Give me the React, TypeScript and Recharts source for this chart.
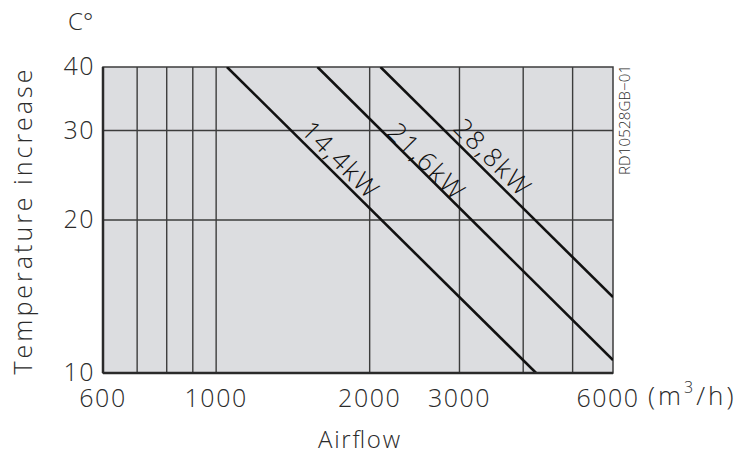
import React from 'react';
import {
  ComposedChart, Line, XAxis, YAxis, ReferenceLine, ReferenceArea, ReferenceDot
} from 'recharts';

// axis ticks and grid positions (log-log)
const xTicks = [600, 1000, 2000, 3000, 6000];
const yTicks = [10, 20, 30, 40];
const xGrid = [700, 800, 900, 1000, 2000, 3000, 4000, 5000];
const yGrid = [20, 30];

// heater curves, airflow (m3/h) vs temperature increase (C)
const line14 = [{ x: 1050, y: 40 }, { x: 4240, y: 10 }];
const line21 = [{ x: 1580, y: 40 }, { x: 6000, y: 10.6 }];
const line28 = [{ x: 2100, y: 40 }, { x: 6000, y: 14.1 }];

const lineLabels = [
  { text: '14,4kW', x: 1749, y: 26.3 },
  { text: '21,6kW', x: 2579, y: 26.1 },
  { text: '28,8kW', x: 3474, y: 26.6 },
];

const FONT = '"Open Sans", sans-serif';
const TEXT = '#2b2b2b';
const GRID = '#3c3c3c';
const PLOT_BG = '#dcdde0';

const XTick = (p: any) => (
  <text x={p.payload.value === 6000 ? p.x - 5 : p.x} y={p.y + 34} textAnchor="middle"
    fontFamily={FONT} fontWeight={300} fontSize={25} letterSpacing={1.5} fill={TEXT}>
    {p.payload.value}
  </text>
);

const YTick = (p: any) => (
  <text x={p.x - 8} y={p.y + 8} textAnchor="end" fontFamily={FONT} fontWeight={300}
    fontSize={25} letterSpacing={1.5} fill={TEXT}>
    {p.payload.value}
  </text>
);

const LineLabel = (text: string) => (p: any) => (
  <text x={p.cx} y={p.cy} dy={9} textAnchor="middle" fontFamily={FONT} fontWeight={300}
    fontSize={26} textLength={96} lengthAdjust="spacing" fill="#111"
    transform={`rotate(45 ${p.cx} ${p.cy})`}>
    {text}
  </text>
);

export default function App() {
  return (
    <div style={{ position: 'absolute', left: 0, top: 0, width: 755, height: 454, background: '#fff' }}>
      <ComposedChart width={755} height={454} margin={{ top: 67, right: 142, bottom: 41, left: 43 }}>
        <XAxis type="number" dataKey="x" scale="log" domain={[600, 6000]} ticks={xTicks}
          allowDataOverflow interval={0} height={40} tickSize={0} tickMargin={0}
          tickLine={false} axisLine={{ stroke: '#2a2a2a', strokeWidth: 2.5 }} tick={<XTick />} />
        <YAxis type="number" dataKey="y" scale="log" domain={[10, 40]} ticks={yTicks}
          allowDataOverflow interval={0} width={60} tickSize={0} tickMargin={0}
          tickLine={false} axisLine={{ stroke: '#2a2a2a', strokeWidth: 2.5 }} tick={<YTick />} />
        <ReferenceArea x1={600} x2={6000} y1={10} y2={40} fill={PLOT_BG} fillOpacity={1}
          stroke={GRID} strokeWidth={1.5} />
        {xGrid.map(v => (
          <ReferenceLine key={'x' + v} x={v} stroke={GRID} strokeWidth={1.4} />
        ))}
        {yGrid.map(v => (
          <ReferenceLine key={'y' + v} y={v} stroke={GRID} strokeWidth={1.4} />
        ))}
        <Line data={line14} dataKey="y" type="linear" stroke="#111" strokeWidth={2.6}
          dot={false} isAnimationActive={false} />
        <Line data={line21} dataKey="y" type="linear" stroke="#111" strokeWidth={2.6}
          dot={false} isAnimationActive={false} />
        <Line data={line28} dataKey="y" type="linear" stroke="#111" strokeWidth={2.6}
          dot={false} isAnimationActive={false} />
        {lineLabels.map(l => (
          <ReferenceDot key={l.text} x={l.x} y={l.y} r={0} shape={LineLabel(l.text)} />
        ))}
      </ComposedChart>
      <svg width={755} height={454} style={{ position: 'absolute', left: 0, top: 0, pointerEvents: 'none' }}>
        <g fontFamily={FONT} fontWeight={300} fill={TEXT}>
          <text x={68} y={30} fontSize={24}>C°</text>
          <text x={0} y={0} fontSize={25} textLength={305} lengthAdjust="spacing" textAnchor="middle"
            transform="translate(32 222) rotate(-90)">Temperature increase</text>
          <text x={318} y={448} fontSize={24} textLength={82} lengthAdjust="spacing">Airflow</text>
          <text x={648} y={405} fontSize={26} letterSpacing={3}>
            (m<tspan fontSize={16} dy={-12}>3</tspan><tspan dy={12}>/h)</tspan>
          </text>
          <text x={0} y={0} fontSize={15} textAnchor="middle" textLength={110} lengthAdjust="spacing"
            transform="translate(630 120) rotate(-90)">RD10528GB−01</text>
        </g>
      </svg>
    </div>
  );
}
